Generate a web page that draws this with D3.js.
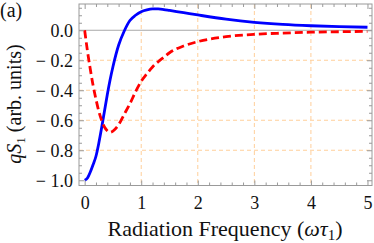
<!DOCTYPE html>
<html>
<head>
<meta charset="utf-8">
<script src="https://cdn.jsdelivr.net/npm/d3@7"></script>
<style>
  html, body { margin: 0; padding: 0; background: #fff; }
  svg { display: block; }
  text { font-family: "Liberation Serif", "Times New Roman", serif; fill: #111; }
</style>
</head>
<body>
<svg id="chart" width="374" height="243"></svg>
<script>
// ---- data ----
const freq = [0, 0.05, 0.1, 0.15, 0.2, 0.25, 0.3, 0.35, 0.4, 0.45, 0.5, 0.6, 0.7, 0.8, 0.9,
              1.0, 1.1, 1.2, 1.3, 1.4, 1.5, 1.75, 2.0, 2.5, 3.0, 3.5, 4.0, 4.5, 5.0];
const blueSeries = [-1.0, -0.985, -0.945, -0.895, -0.84, -0.753, -0.65, -0.54, -0.43, -0.33, -0.243,
                    -0.10, -0.005, 0.065, 0.10, 0.124, 0.136, 0.142, 0.142, 0.138, 0.132, 0.117,
                    0.102, 0.074, 0.053, 0.039, 0.030, 0.024, 0.020];
const redSeries = [0.0, -0.14, -0.26, -0.37, -0.46, -0.54, -0.60, -0.645, -0.67, -0.68, -0.672,
                   -0.63, -0.56, -0.49, -0.41, -0.34, -0.29, -0.245, -0.21, -0.18, -0.15, -0.105,
                   -0.076, -0.043, -0.027, -0.019, -0.013, -0.010, -0.007];
const xTicks = [0, 1, 2, 3, 4, 5];
const yTicks = [0.0, -0.2, -0.4, -0.6, -0.8, -1.0];
const xGrid = [1, 2, 3, 4];
const yGrid = [-0.2, -0.4, -0.6, -0.8];

// ---- layout ----
const svg = d3.select("#chart");
const L = 79, R = 372, T = 4, B = 185.5;
const x = d3.scaleLinear().domain([-0.1, 5.08]).range([L, R]);
const y = d3.scaleLinear().domain([-1.035, 0.175]).range([B, T]);

const xMinor = d3.range(0, 5.01, 0.2).filter(v => Math.abs(v - Math.round(v)) > 1e-6);
const yMinor = d3.range(-1.0, 0.1751, 0.05).map(v => +v.toFixed(2))
  .filter(v => Math.abs(v * 5 - Math.round(v * 5)) > 1e-6);

// grid
const g = svg.append("g");
g.selectAll("line.vg").data(xGrid).join("line")
  .attr("x1", d => x(d)).attr("x2", d => x(d)).attr("y1", T).attr("y2", B)
  .attr("stroke", "#ffcf9a").attr("stroke-width", 1).attr("stroke-dasharray", "4,3");
g.selectAll("line.hg").data(yGrid).join("line")
  .attr("y1", d => y(d)).attr("y2", d => y(d)).attr("x1", L).attr("x2", R)
  .attr("stroke", "#ffcf9a").attr("stroke-width", 1).attr("stroke-dasharray", "4,3");
// zero line
g.append("line").attr("x1", L).attr("x2", R).attr("y1", y(0)).attr("y2", y(0))
  .attr("stroke", "#a8a8a8").attr("stroke-width", 1);

// curves
const pts = (vals) => freq.map((f, i) => [f, vals[i]]);
const line = d3.line().x(d => x(d[0])).y(d => y(d[1])).curve(d3.curveMonotoneX);
svg.append("path").attr("d", line(pts(blueSeries)))
  .attr("fill", "none").attr("stroke", "#0000ff").attr("stroke-width", 2.8);
svg.append("path").attr("d", line(pts(redSeries)))
  .attr("fill", "none").attr("stroke", "#ff0000").attr("stroke-width", 2.8)
  .attr("stroke-dasharray", "8,4");

// frame
svg.append("rect").attr("x", L).attr("y", T).attr("width", R - L).attr("height", B - T)
  .attr("fill", "none").attr("stroke", "#9a9a9a").attr("stroke-width", 1);

function styleAxis(sel) {
  sel.select(".domain").remove();
  sel.selectAll(".tick line").attr("stroke", "#9a9a9a");
  sel.selectAll("text").style("font-size", "18px").attr("fill", "#111");
}
const fmtY = d => (d < 0 ? "\u2212 " : "") + Math.abs(d).toFixed(1);

// bottom
svg.append("g").attr("transform", `translate(0,${B})`)
  .call(d3.axisBottom(x).tickValues(xTicks).tickFormat(d3.format("d")).tickSize(-5).tickPadding(11))
  .call(styleAxis);
svg.append("g").attr("transform", `translate(0,${B})`)
  .call(d3.axisBottom(x).tickValues(xMinor).tickFormat("").tickSize(-3)).call(styleAxis);
// top
svg.append("g").attr("transform", `translate(0,${T})`)
  .call(d3.axisTop(x).tickValues(xTicks).tickFormat("").tickSize(-5)).call(styleAxis);
svg.append("g").attr("transform", `translate(0,${T})`)
  .call(d3.axisTop(x).tickValues(xMinor).tickFormat("").tickSize(-3)).call(styleAxis);
// left
svg.append("g").attr("transform", `translate(${L},0)`)
  .call(d3.axisLeft(y).tickValues(yTicks).tickFormat(fmtY).tickSize(-5).tickPadding(6))
  .call(styleAxis);
svg.append("g").attr("transform", `translate(${L},0)`)
  .call(d3.axisLeft(y).tickValues(yMinor).tickFormat("").tickSize(-3)).call(styleAxis);
// right
svg.append("g").attr("transform", `translate(${R},0)`)
  .call(d3.axisRight(y).tickValues(yTicks).tickFormat("").tickSize(-5)).call(styleAxis);
svg.append("g").attr("transform", `translate(${R},0)`)
  .call(d3.axisRight(y).tickValues(yMinor).tickFormat("").tickSize(-3)).call(styleAxis);

// x title
const xt = svg.append("text").attr("x", 225).attr("y", 236).attr("text-anchor", "middle")
  .style("font-size", "22px");
xt.append("tspan").text("Radiation Frequency (");
xt.append("tspan").style("font-style", "italic").text("\u03C9\u03C4");
xt.append("tspan").attr("dy", 4).style("font-size", "15px").text("1");
xt.append("tspan").attr("dy", -4).text(")");

// y title
const yt = svg.append("text").attr("transform", "translate(21,104) rotate(-90)")
  .attr("text-anchor", "middle").style("font-size", "20px");
yt.append("tspan").style("font-style", "italic").text("qS");
yt.append("tspan").attr("dy", 4).style("font-size", "13px").text("1");
yt.append("tspan").attr("dy", -4).text(" (arb. units)");

// panel label
svg.append("text").attr("x", 0).attr("y", 17).style("font-size", "20px").text("(a)");
</script>
</body>
</html>
